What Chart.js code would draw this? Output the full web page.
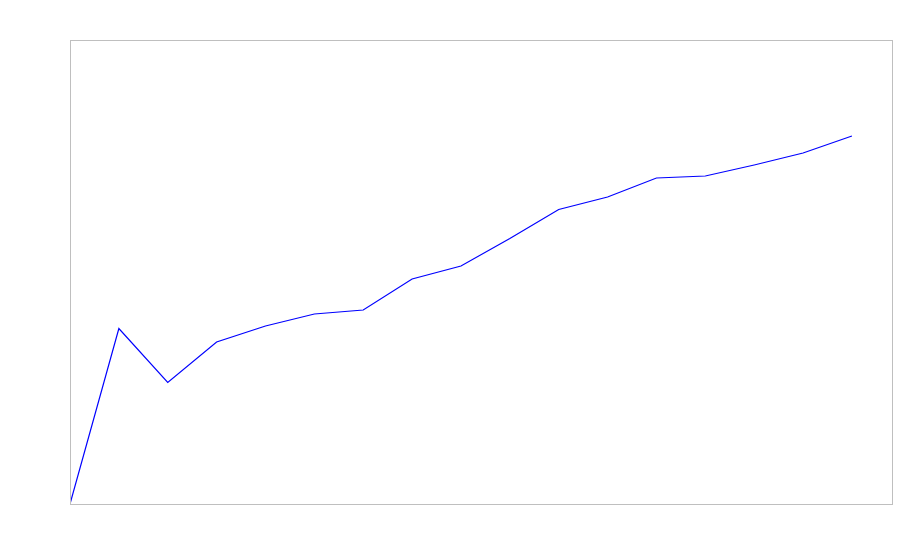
<!DOCTYPE html>
<html>
<head>
<meta charset="utf-8">
<script src="https://cdn.jsdelivr.net/npm/chart.js@4/dist/chart.umd.min.js"></script>
<style>
  html, body { margin: 0; padding: 0; background: #fff; }
  #wrap { width: 900px; height: 560px; }
</style>
</head>
<body>
<div id="wrap"><canvas id="lineChart"></canvas></div>
<script>
// data (no tick labels shown, so units are arbitrary)
const steps = [0, 1, 2, 3, 4, 5, 6, 7, 8, 9, 10, 11, 12, 13, 14, 15, 16];
const values = [0, 175.5, 121.5, 162, 178, 190, 194, 225, 238, 265.5, 294.5, 307, 326, 328, 339, 351, 368];
const xMax = 16.82;
const yMax = 464;

// thin grey frame round the plot area
const frame = {
    id: "frame",
    afterDraw(chart) {
        const a = chart.chartArea;
        const ctx = chart.ctx;
        ctx.save();
        ctx.strokeStyle = "#bfbfbf";
        ctx.lineWidth = 1;
        ctx.strokeRect(a.left + 0.5, a.top + 0.5, a.right - a.left, a.bottom - a.top);
        ctx.restore();
    }
};

document.addEventListener("DOMContentLoaded", () => {
    const canvas = document.getElementById("lineChart");

    new Chart(canvas, {
        type: "line",
        data: {
            datasets: [{
                data: steps.map((s, i) => ({ x: s, y: values[i] })),
                borderColor: "#0000ff",
                borderWidth: 1.2,
                pointRadius: 0,
                tension: 0,
                fill: false
            }]
        },
        options: {
            responsive: true,
            maintainAspectRatio: false,
            animation: false,
            layout: { padding: { left: 70, top: 40, right: 8, bottom: 56 } },
            plugins: {
                legend: { display: false },
                tooltip: { enabled: false }
            },
            scales: {
                x: { type: "linear", min: 0, max: xMax, display: false },
                y: { min: 0, max: yMax, display: false }
            }
        },
        plugins: [frame]
    });
});
</script>
</body>
</html>
